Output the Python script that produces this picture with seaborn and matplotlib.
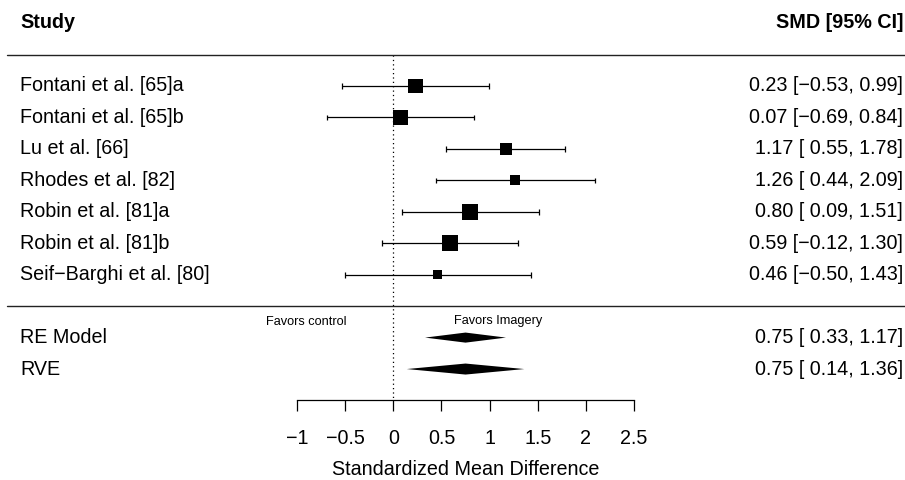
import numpy as np
import pandas as pd
import matplotlib
matplotlib.use("Agg")
import matplotlib.pyplot as plt
import seaborn as sns

# ---- study-level results (standardized mean differences) ----
studies = [
    "Fontani et al. [65]a",
    "Fontani et al. [65]b",
    "Lu et al. [66]",
    "Rhodes et al. [82]",
    "Robin et al. [81]a",
    "Robin et al. [81]b",
    "Seif\u2212Barghi et al. [80]",
]
smd = [0.23, 0.07, 1.17, 1.26, 0.80, 0.59, 0.46]
ci_lower = [-0.53, -0.69, 0.55, 0.44, 0.09, -0.12, -0.50]
ci_upper = [0.99, 0.84, 1.78, 2.09, 1.51, 1.30, 1.43]
weight_pct = [16.1, 16.1, 12.9, 10.8, 17.2, 17.2, 9.7]

# ---- pooled estimates ----
models = ["RE Model", "RVE"]
model_est = [0.75, 0.75]
model_lower = [0.33, 0.14]
model_upper = [1.17, 1.36]

x_ticks = [-1, -0.5, 0, 0.5, 1, 1.5, 2, 2.5]
x_tick_labels = ["\u22121", "\u22120.5", "0", "0.5", "1", "1.5", "2", "2.5"]

sns.set_style("white")
plt.rcParams["font.family"] = ["Liberation Sans", "DejaVu Sans"]
plt.rcParams["axes.unicode_minus"] = True
plt.rcParams["text.color"] = "black"
plt.rcParams["axes.labelcolor"] = "black"
plt.rcParams["xtick.color"] = "black"
plt.rcParams["xtick.labelcolor"] = "black"

W, H = 905, 480
fig = plt.figure(figsize=(W / 100, H / 100), dpi=100)
ax = fig.add_axes([0, 0, 1, 1])

# layout in "row" units
row_px = 31.45
first_row_px = 86.0
zero_px, unit_px = 393.3, 96.3
ax.set_xlim(-zero_px / unit_px, (W - zero_px) / unit_px)
ax.set_ylim((H - first_row_px) / row_px, -first_row_px / row_px)

k = len(studies)
df = pd.DataFrame({
    "study": studies, "smd": smd, "lo": ci_lower, "hi": ci_upper,
    "w": weight_pct, "row": np.arange(k, dtype=float),
})
model_rows = np.arange(k + 1, k + 1 + len(models), dtype=float)
axis_row = model_rows[-1] + 1
sep_row = k
header_line_row = -1
header_row = -2.03

fs = 14.2
ink = "black"

# confidence intervals with end caps
ax.hlines(df["row"], df["lo"], df["hi"], color=ink, lw=0.9)
for r, lo, hi in zip(df["row"], df["lo"], df["hi"]):
    ax.vlines([lo, hi], r - 0.09, r + 0.09, color=ink, lw=0.9)

# weighted squares
side_px = np.array(df["w"]) * (16.0 / 17.2)
areas = (side_px * 0.72) ** 2
sns.scatterplot(data=df, x="smd", y="row", marker="s", s=areas, color=ink,
                edgecolor="none", linewidth=0, legend=False, ax=ax, zorder=3)

# pooled diamonds
half_h = [0.16, 0.175]
for r, est, lo, hi, hh in zip(model_rows, model_est, model_lower, model_upper, half_h):
    ax.fill([lo, est, hi, est], [r, r - hh, r, r + hh], color=ink, lw=0, zorder=3)

# reference line at zero
ax.vlines(0, header_line_row, axis_row, color=ink, lw=0.9,
          linestyles=(0, (1, 2.5)), zorder=1)

# horizontal separators
trans = ax.get_yaxis_transform()
for r in (header_line_row, sep_row):
    ax.plot([7 / W, 1], [r, r], transform=trans, color="#222222", lw=1.0)

# left labels and right-hand SMD text
lx, rx = 20 / W, 903 / W
ax.text(lx, header_row, "Study", transform=trans, ha="left", va="center",
        fontsize=fs, fontweight="bold")
ax.text(rx, header_row, "SMD [95% CI]", transform=trans, ha="right",
        va="center", fontsize=fs, fontweight="bold")


def ci_text(est, lo, hi):
    los = f"{lo:.2f}".replace("-", "\u2212")
    his = f"{hi:.2f}".replace("-", "\u2212")
    if lo >= 0:
        los = " " + los
    return f"{est:.2f} [{los}, {his}]"


for name, r, est, lo, hi in zip(df["study"], df["row"], df["smd"], df["lo"], df["hi"]):
    ax.text(lx, r, name, transform=trans, ha="left", va="center", fontsize=fs)
    ax.text(rx, r, ci_text(est, lo, hi), transform=trans, ha="right",
            va="center", fontsize=fs)
for name, r, est, lo, hi in zip(models, model_rows, model_est, model_lower, model_upper):
    ax.text(lx, r, name, transform=trans, ha="left", va="center", fontsize=fs)
    ax.text(rx, r, ci_text(est, lo, hi), transform=trans, ha="right",
            va="center", fontsize=fs)

# direction annotations
ax.text(-0.906, sep_row + 0.5, "Favors control", ha="center", va="center", fontsize=9.2)
ax.text(1.087, sep_row + 0.48, "Favors Imagery", ha="center", va="center", fontsize=9.2)

# bottom axis
for side in ("top", "right", "left"):
    ax.spines[side].set_visible(False)
ax.spines["bottom"].set_position(("data", axis_row))
ax.spines["bottom"].set_bounds(x_ticks[0], x_ticks[-1])
ax.spines["bottom"].set_color(ink)
ax.spines["bottom"].set_linewidth(0.9)
ax.set_xticks(x_ticks)
ax.set_xticklabels(x_tick_labels)
ax.tick_params(axis="x", direction="out", length=8, width=0.9, color=ink,
               pad=12.5, labelsize=fs, bottom=True, labelcolor=ink)
ax.set_yticks([])
ax.set_ylabel("")
ax.set_xlabel("Standardized Mean Difference", fontsize=fs, color=ink)
ax.xaxis.set_label_coords(465.5 / W, 1 - 460 / H)

fig.savefig("out.png", dpi=100)
